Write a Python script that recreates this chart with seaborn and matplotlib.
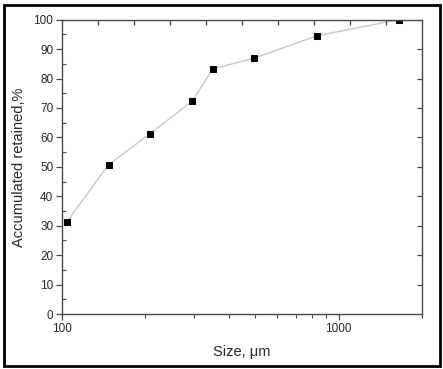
import numpy as np
import matplotlib
matplotlib.use("Agg")
import matplotlib.pyplot as plt
import seaborn as sns
from matplotlib.ticker import FixedLocator, NullFormatter, FixedFormatter
from matplotlib.patches import Rectangle

# sieve sizes (um) and accumulated retained (%)
size_um = [104, 147, 208, 295, 351, 495, 833, 1651]
retained = [31.4, 50.7, 61.3, 72.3, 83.3, 86.9, 94.5, 100.0]

x_major = [100, 1000]
x_minor = [200, 300, 400, 500, 600, 700, 800, 900, 2000]
y_ticks = list(range(0, 101, 10))

sns.set_theme(style="white")
plt.rcParams['font.family'] = ['Liberation Sans', 'DejaVu Sans']
text_col = "#2a2a2a"

fig = plt.figure(figsize=(4.43, 3.69), dpi=100)
ax = fig.add_axes([0.1406, 0.149, 0.8114, 0.7977])

sns.lineplot(x=size_um, y=retained, sort=False, ax=ax, color="#c8c8c8",
             linewidth=1.0, marker="s", markersize=4.8, markerfacecolor="black",
             markeredgecolor="black")

ax.set_xscale("log")
ax.set_xlim(100, 2000)
ax.set_ylim(0, 100)
ax.xaxis.set_major_locator(FixedLocator(x_major))
ax.xaxis.set_major_formatter(FixedFormatter([str(v) for v in x_major]))
ax.xaxis.set_minor_locator(FixedLocator(x_minor))
ax.xaxis.set_minor_formatter(NullFormatter())
ax.yaxis.set_major_locator(FixedLocator(y_ticks))
ax.yaxis.set_minor_locator(FixedLocator(list(range(5, 100, 10))))

for s in ax.spines.values():
    s.set_color("#4a4a4a")
    s.set_linewidth(1.0)

ax.tick_params(which="major", direction="out", length=4, width=0.9,
               colors="#4a4a4a", labelcolor=text_col, labelsize=8.5, pad=2.5)
ax.tick_params(which="minor", axis="y", direction="in", length=3, width=0.8, colors="#4a4a4a")
ax.tick_params(which="minor", axis="x", direction="out", length=3, width=0.8, colors="#4a4a4a")

ax.set_xlabel("Size, μm", fontsize=10.5, color=text_col, labelpad=7)
ax.set_ylabel("Accumulated retained,%", fontsize=10.5, color=text_col, labelpad=5)

# top axis: ten equal divisions, ticks pointing in
top = ax.twiny()
top.set_xlim(0, 10)
top.xaxis.set_major_locator(FixedLocator(list(range(1, 10))))
top.xaxis.set_major_formatter(NullFormatter())
top.tick_params(direction="in", length=3.5, width=0.9, colors="#4a4a4a")
top.spines[:].set_visible(False)

# right axis: major y ticks pointing in
right = ax.twinx()
right.set_ylim(0, 100)
right.yaxis.set_major_locator(FixedLocator(y_ticks[1:-1]))
right.yaxis.set_major_formatter(NullFormatter())
right.tick_params(direction="in", length=3.5, width=0.9, colors="#4a4a4a")
right.spines[:].set_visible(False)

# frame around the whole picture
fig.patches.append(Rectangle((0.0085, 0.008), 0.984, 0.978, transform=fig.transFigure,
                             fill=False, edgecolor="black", linewidth=2.0))

fig.savefig("out.png", dpi=100)
